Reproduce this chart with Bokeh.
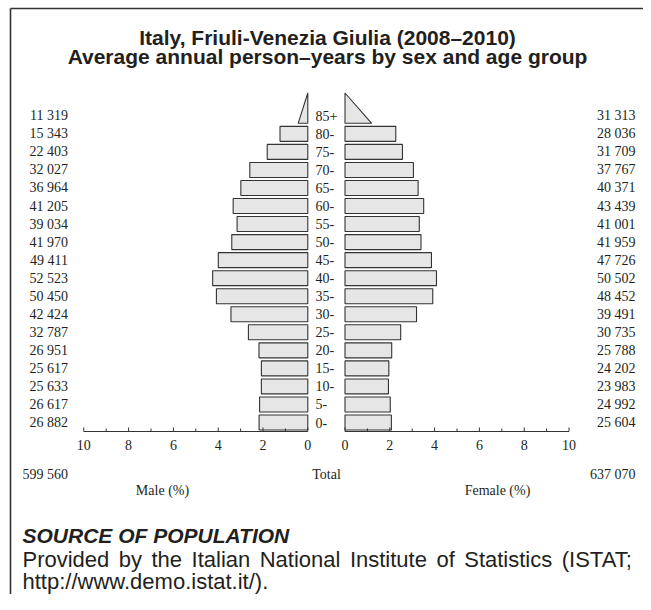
from bokeh.plotting import figure
from bokeh.models import Range1d, ColumnDataSource
from bokeh.core.properties import value
from bokeh.embed import file_html
from bokeh.resources import INLINE

# ---------------- data ----------------
age_groups = ["0-", "5-", "10-", "15-", "20-", "25-", "30-", "35-", "40-",
              "45-", "50-", "55-", "60-", "65-", "70-", "75-", "80-", "85+"]
male_counts = [26882, 26617, 25633, 25617, 26951, 32787, 42424, 50450, 52523,
               49411, 41970, 39034, 41205, 36964, 32027, 22403, 15343, 11319]
female_counts = [25604, 24992, 23983, 24202, 25788, 30735, 39491, 48452, 50502,
                 47726, 41959, 41001, 43439, 40371, 37767, 31709, 28036, 31313]
male_total = 599560
female_total = 637070
tick_values = [0, 2, 4, 6, 8, 10]
minor_tick_values = [1, 3, 5, 7, 9]
title_lines = ["Italy, Friuli-Venezia Giulia (2008\u20132010)",
               "Average annual person\u2013years by sex and age group"]
source_heading = "SOURCE OF POPULATION"
source_line1 = "Provided by the Italian National Institute of Statistics (ISTAT;"
source_line2 = "http://www.demo.istat.it/)."

grand_total = male_total + female_total
male_pct = [c / grand_total * 100 for c in male_counts]
female_pct = [c / grand_total * 100 for c in female_counts]


def fmt(n):
    return f"{n:,}".replace(",", " ")


# ---------------- layout constants (px) ----------------
W, H = 643, 594
S = 22.4            # px per percent
MALE0 = 307.3       # x of male 0 %
FEMALE0 = 344.5     # x of female 0 %
ROW0 = 422.0        # y of row "0-"
R = 18.04           # px per row
AXIS_Y = 431.0
INK = "#231f20"
LINE = "#333333"
FILL = "#e6e6e7"
SERIF = value("Liberation Serif")
SANS = value("Liberation Sans")
FS = value("14px")

p = figure(width=W, height=H, output_backend="svg", toolbar_location=None,
           x_range=Range1d(0, W), y_range=Range1d(H, 0),
           x_axis_location=None, y_axis_location=None,
           min_border=0, outline_line_color=None)
p.grid.visible = False
p.extra_x_ranges = {
    "male": Range1d(MALE0 / S, (MALE0 - W) / S),
    "female": Range1d(-FEMALE0 / S, (W - FEMALE0) / S),
}
p.extra_y_ranges = {"rows": Range1d((ROW0 - H) / R, ROW0 / R)}

n = len(age_groups)
rows = list(range(n))
bar_h = 0.83
last = n - 1
axis_row = (ROW0 - AXIS_Y) / R

for name, pct in (("male", male_pct), ("female", female_pct)):
    src = ColumnDataSource(dict(y=rows[:last], right=pct[:last]))
    p.hbar(y="y", left=0, right="right", height=bar_h, source=src,
           x_range_name=name, y_range_name="rows",
           fill_color=FILL, line_color=LINE, line_width=1.1)
    # open-ended age group drawn as a triangle
    base = last - bar_h / 2
    top = base + 1.68
    p.patch(x=[0, pct[last] * 0.47, 0], y=[base, base, top],
            x_range_name=name, y_range_name="rows",
            fill_color=FILL, line_color=LINE, line_width=1.1)

    # axis line, ticks and tick labels
    p.segment(x0=[0], x1=[10], y0=[axis_row], y1=[axis_row],
              x_range_name=name, y_range_name="rows",
              line_color=LINE, line_width=1.2)
    p.segment(x0=tick_values, x1=tick_values, y0=axis_row,
              y1=axis_row + 4 / R, x_range_name=name, y_range_name="rows",
              line_color=LINE, line_width=1)
    p.segment(x0=minor_tick_values, x1=minor_tick_values, y0=axis_row,
              y1=axis_row + 3 / R, x_range_name=name, y_range_name="rows",
              line_color=LINE, line_width=1)
    p.text(x=tick_values, y=axis_row - 13 / R,
           text=[str(t) for t in tick_values],
           x_range_name=name, y_range_name="rows",
           text_font=SERIF, text_font_size=FS, text_color=INK,
           text_align="center", text_baseline="middle")

# age labels
p.text(x=315, y=rows, text=age_groups, y_range_name="rows",
       text_font=SERIF, text_font_size=FS, text_color=INK,
       text_align="left", text_baseline="middle")
# counts
p.text(x=67.5, y=rows, text=[fmt(c) for c in male_counts], y_range_name="rows",
       text_font=SERIF, text_font_size=FS, text_color=INK,
       text_align="right", text_baseline="middle")
p.text(x=635, y=rows, text=[fmt(c) for c in female_counts], y_range_name="rows",
       text_font=SERIF, text_font_size=FS, text_color=INK,
       text_align="right", text_baseline="middle")

# totals line
p.text(x=[67.5], y=[474], text=[fmt(male_total)], text_font=SERIF,
       text_font_size=FS, text_color=INK, text_align="right",
       text_baseline="middle")
p.text(x=[326], y=[474], text=["Total"], text_font=SERIF,
       text_font_size=FS, text_color=INK, text_align="center",
       text_baseline="middle")
p.text(x=[635], y=[474], text=[fmt(female_total)], text_font=SERIF,
       text_font_size=FS, text_color=INK, text_align="right",
       text_baseline="middle")
p.text(x=[162, 497], y=[490, 490], text=["Male (%)", "Female (%)"],
       text_font=SERIF, text_font_size=FS, text_color=INK,
       text_align="center", text_baseline="middle")

# title
p.text(x=[327, 327], y=[37, 56], text=title_lines, text_font=SANS,
       text_font_size=value("21px"), text_font_style="bold", text_color=INK,
       text_align="center", text_baseline="middle")

# source heading
p.text(x=[22], y=[535], text=[source_heading], text_font=SANS,
       text_font_size=value("21px"), text_font_style="bold italic",
       text_color=INK, text_align="left", text_baseline="middle")

# justified first source line (Arial/Liberation Sans advance widths, 1/1000 em)
ADV = {"P": 667, "r": 333, "o": 556, "v": 500, "i": 222, "d": 556, "e": 556,
       "b": 556, "y": 500, "t": 278, "h": 556, "I": 278, "a": 556, "l": 222,
       "n": 556, "N": 722, "s": 500, "u": 556, "f": 278, "S": 667, "c": 500,
       "(": 333, "T": 611, "A": 667, ";": 278}
BODY_PX = 22
LEFT, RIGHT = 22, 637
words = source_line1.split(" ")
widths = [sum(ADV.get(ch, 556) for ch in w) / 1000 * BODY_PX for w in words]
gap = (RIGHT - LEFT - sum(widths)) / (len(words) - 1)
xs, cur = [], LEFT
for wdt in widths:
    xs.append(cur)
    cur += wdt + gap
p.text(x=xs, y=[559] * len(words), text=words, text_font=SANS,
       text_font_size=value(f"{BODY_PX}px"), text_color=INK,
       text_align="left", text_baseline="middle")
p.text(x=[LEFT], y=[581], text=[source_line2], text_font=SANS,
       text_font_size=value(f"{BODY_PX}px"), text_color=INK,
       text_align="left", text_baseline="middle")

# frame
p.segment(x0=[10, 10], x1=[10, W], y0=[8, 8], y1=[H, 8],
          line_color=LINE, line_width=1.6)

open("out.html", "w").write(file_html(p, INLINE))
